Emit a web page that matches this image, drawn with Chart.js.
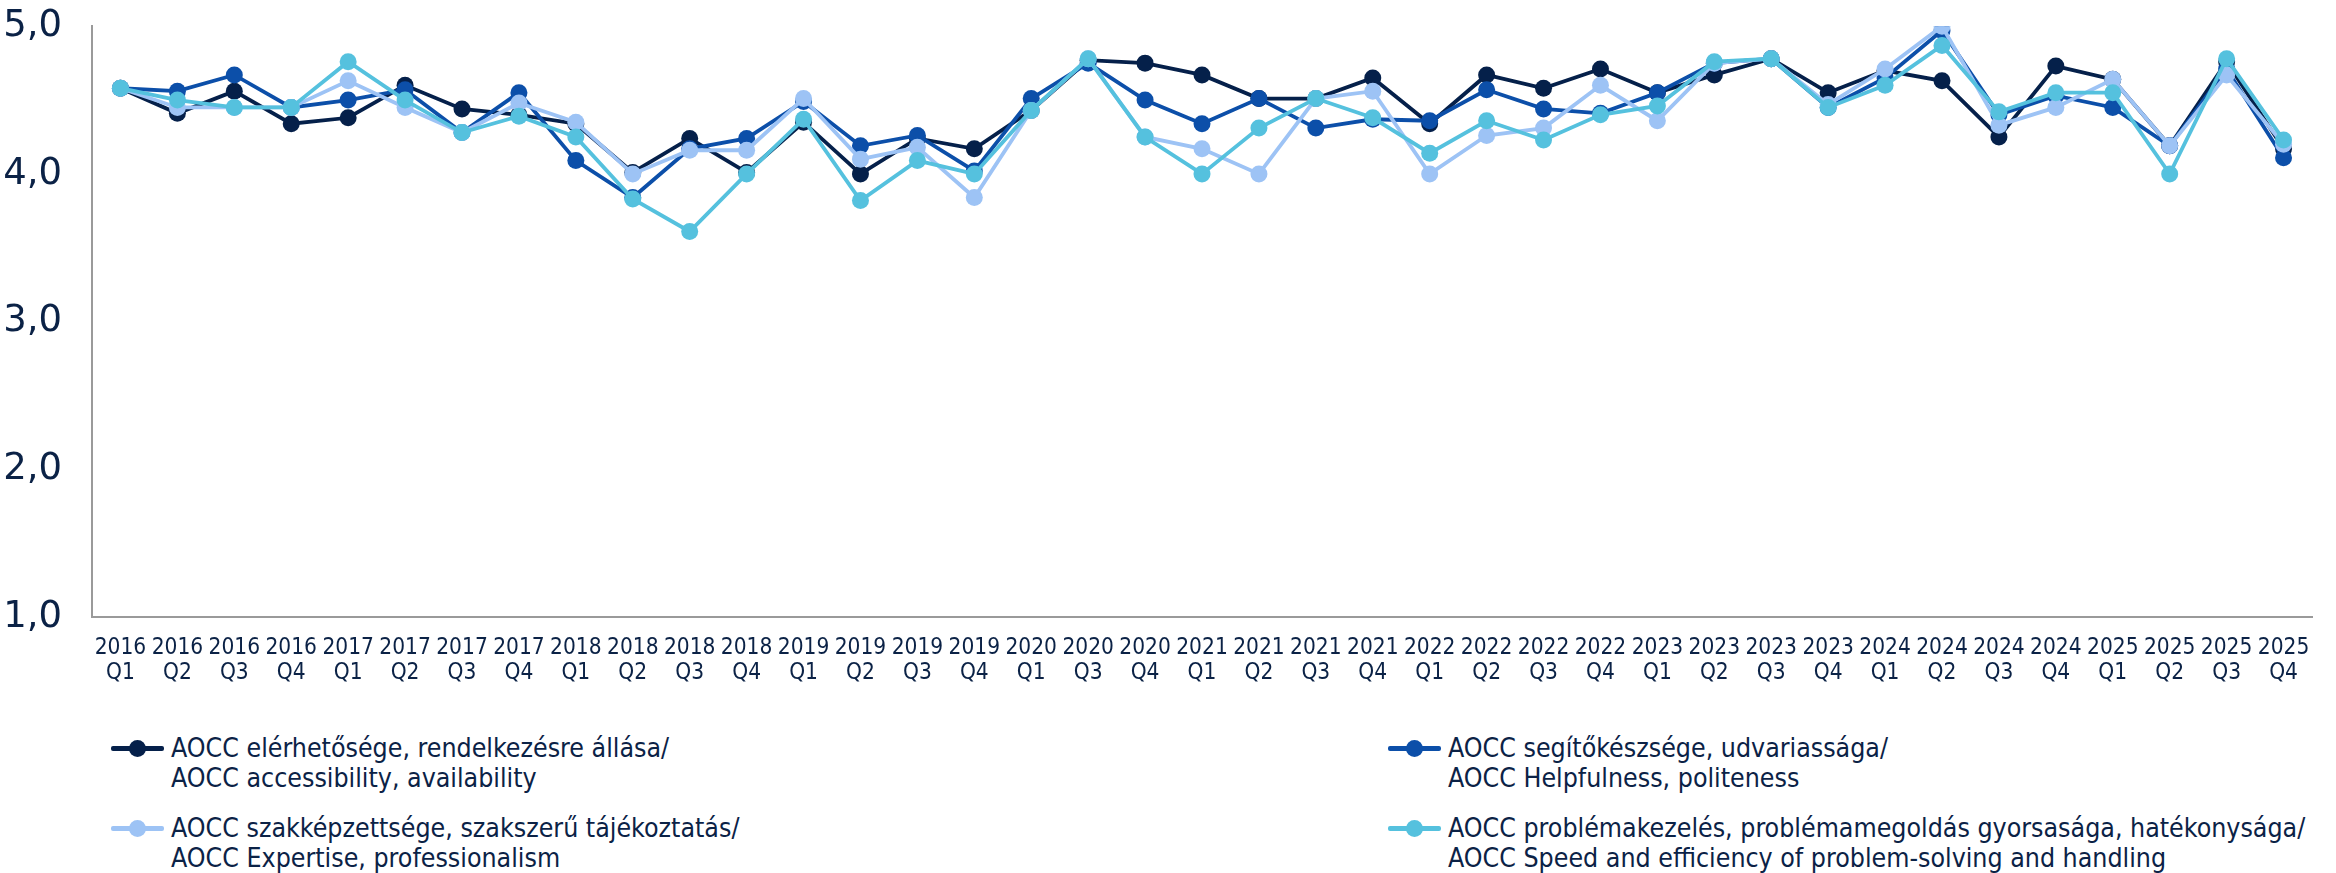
<!DOCTYPE html>
<html>
<head>
<meta charset="utf-8">
<script src="https://cdn.jsdelivr.net/npm/chart.js@4/dist/chart.umd.min.js"></script>
<style>
  html, body { margin: 0; padding: 0; background: #ffffff; }
  #wrap { position: relative; width: 2336px; height: 873px; overflow: hidden; }
  #chartBox { position: absolute; left: 0; top: -26px; width: 2336px; height: 731px; }
  .leg { position: absolute; font-family: "DejaVu Sans Condensed", "DejaVu Sans", sans-serif; font-size: 26.5px; line-height: 30px; color: #0b2246; white-space: nowrap; }
  .mk { position: absolute; width: 53px; height: 5px; top: 13px; left: -60px; border-radius: 2px; }
  .mk::after { content: ""; position: absolute; width: 17px; height: 17px; border-radius: 50%; left: 18px; top: -6px; background: inherit; }
</style>
</head>
<body>
<div id="wrap">
  <div id="chartBox"><canvas id="c"></canvas></div>
  <div id="legend"></div>
</div>
<script>
// ---- data ----
const categories = [
  ['2016','Q1'],['2016','Q2'],['2016','Q3'],['2016','Q4'],
  ['2017','Q1'],['2017','Q2'],['2017','Q3'],['2017','Q4'],
  ['2018','Q1'],['2018','Q2'],['2018','Q3'],['2018','Q4'],
  ['2019','Q1'],['2019','Q2'],['2019','Q3'],['2019','Q4'],
  ['2020','Q1'],['2020','Q3'],['2020','Q4'],
  ['2021','Q1'],['2021','Q2'],['2021','Q3'],['2021','Q4'],
  ['2022','Q1'],['2022','Q2'],['2022','Q3'],['2022','Q4'],
  ['2023','Q1'],['2023','Q2'],['2023','Q3'],['2023','Q4'],
  ['2024','Q1'],['2024','Q2'],['2024','Q3'],['2024','Q4'],
  ['2025','Q1'],['2025','Q2'],['2025','Q3'],['2025','Q4']
];
const accessibility = [4.58,4.41,4.56,4.34,4.38,4.60,4.44,4.40,4.34,4.01,4.24,4.01,4.35,4.00,4.24,4.17,4.43,4.77,4.75,4.67,4.51,4.51,4.65,4.34,4.67,4.58,4.71,4.55,4.67,4.78,4.55,4.70,4.63,4.25,4.73,4.64,4.19,4.76,4.17];
const helpfulness   = [4.58,4.56,4.67,4.45,4.50,4.57,4.28,4.55,4.09,3.84,4.17,4.24,4.49,4.19,4.26,4.02,4.51,4.75,4.50,4.34,4.51,4.31,4.37,4.36,4.57,4.44,4.41,4.55,4.75,4.78,4.45,4.65,4.97,4.40,4.53,4.45,4.19,4.71,4.11];
const expertise     = [4.58,4.45,4.45,4.45,4.63,4.45,4.28,4.48,4.35,4.00,4.16,4.16,4.51,4.10,4.18,3.84,4.43,4.78,4.25,4.17,4.00,4.51,4.56,4.00,4.26,4.31,4.60,4.36,4.75,4.78,4.47,4.71,5.00,4.33,4.45,4.64,4.19,4.67,4.20];
const speed         = [4.58,4.50,4.45,4.45,4.76,4.50,4.28,4.39,4.25,3.83,3.61,4.00,4.37,3.82,4.09,4.00,4.43,4.78,4.25,4.00,4.31,4.51,4.38,4.14,4.36,4.23,4.40,4.46,4.76,4.78,4.45,4.60,4.87,4.42,4.55,4.55,4.00,4.78,4.23];
const yTicks = [1,2,3,4,5];
const seriesNames = [
  ['AOCC elérhetősége, rendelkezésre állása/','AOCC accessibility, availability'],
  ['AOCC segítőkészsége, udvariassága/','AOCC Helpfulness, politeness'],
  ['AOCC szakképzettsége, szakszerű tájékoztatás/','AOCC Expertise, professionalism'],
  ['AOCC problémakezelés, problémamegoldás gyorsasága, hatékonysága/','AOCC Speed and efficiency of problem-solving and handling']
];
const seriesColors = ['#05204a','#0c4fa9','#9dc3f5','#55c1de'];
const seriesData = [accessibility, helpfulness, expertise, speed];

// ---- chart ----
const textColor = '#0b2246';
const datasets = seriesData.map((d, i) => ({
  label: seriesNames[i].join(' '),
  data: d,
  borderColor: seriesColors[i],
  backgroundColor: seriesColors[i],
  pointBackgroundColor: seriesColors[i],
  pointBorderWidth: 0,
  pointRadius: 8.5,
  pointHoverRadius: 8.5,
  borderWidth: 3.8,
  tension: 0,
  order: 3 - i
}));

new Chart(document.getElementById('c'), {
  type: 'line',
  data: { labels: categories, datasets },
  options: {
    responsive: true,
    maintainAspectRatio: false,
    animation: false,
    layout: { padding: { left: 0, right: 24, top: 0, bottom: 0 } },
    plugins: { legend: { display: false }, tooltip: { enabled: false } },
    scales: {
      x: {
        offset: true,
        grid: { display: true, drawOnChartArea: false, drawTicks: false, offset: true },
        border: { display: true, color: '#9a9a9a', width: 2 },
        ticks: {
          color: textColor, autoSkip: false, maxRotation: 0, minRotation: 0, padding: 19,
          font: { family: '"DejaVu Sans Condensed", "DejaVu Sans", sans-serif', size: 22.5, lineHeight: 1.1 }
        },
        afterFit: (s) => { s.height = 88; }
      },
      y: {
        min: 1, max: 5,
        grid: { display: true, drawOnChartArea: false, drawTicks: false },
        border: { display: true, color: '#9a9a9a', width: 2 },
        afterBuildTicks: (s) => { s.ticks = yTicks.map(v => ({ value: v })); },
        ticks: {
          color: textColor, padding: 30,
          font: { family: '"DejaVu Sans", sans-serif', size: 37 },
          callback: (v) => Number(v).toFixed(1).replace('.', ',')
        },
        afterFit: (s) => { s.width = 92; }
      }
    }
  }
});

// ---- legend (HTML) ----
const legPos = [
  { x: 171, y: 733 }, { x: 1448, y: 733 },
  { x: 171, y: 813 }, { x: 1448, y: 813 }
];
const legOrder = [0, 1, 2, 3];
const legend = document.getElementById('legend');
legOrder.forEach((si, k) => {
  const el = document.createElement('div');
  el.className = 'leg';
  el.style.left = legPos[k].x + 'px';
  el.style.top = legPos[k].y + 'px';
  const mk = document.createElement('div');
  mk.className = 'mk';
  mk.style.background = seriesColors[si];
  el.appendChild(mk);
  seriesNames[si].forEach(t => {
    const line = document.createElement('div');
    line.textContent = t;
    el.appendChild(line);
  });
  legend.appendChild(el);
});
</script>
</body>
</html>
